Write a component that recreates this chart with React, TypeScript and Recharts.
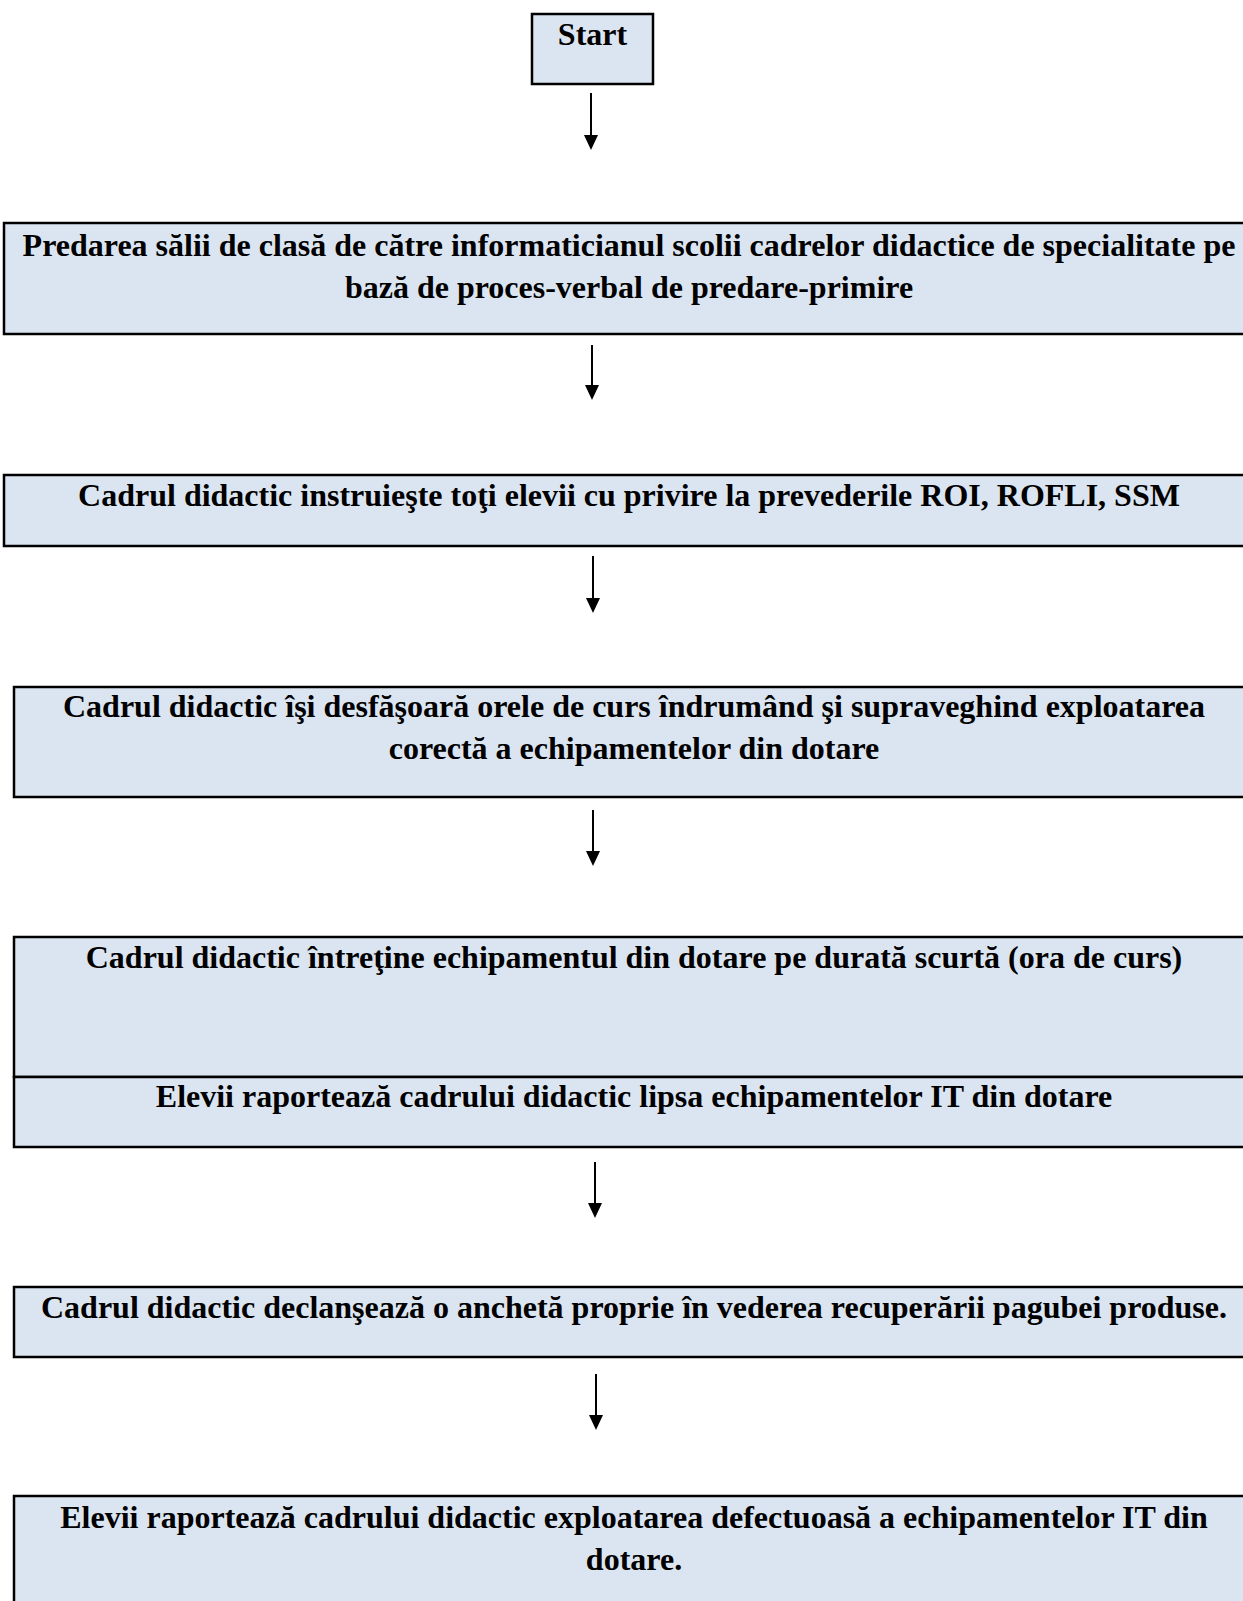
import React from "react";
import {
  ComposedChart,
  XAxis,
  YAxis,
  Scatter,
  ReferenceArea,
  ReferenceLine,
} from "recharts";

const W = 1243;
const H = 1601;

// Flowchart steps (text lines)
const startLabel = ["Start"];
const step1 = [
  "Predarea sălii de clasă de către informaticianul scolii cadrelor didactice de specialitate pe",
  "bază de proces-verbal de predare-primire",
];
const step2 = ["Cadrul didactic instruieşte toţi elevii cu privire la prevederile ROI, ROFLI, SSM"];
const step3 = [
  "Cadrul didactic îşi desfăşoară orele de curs îndrumând şi supraveghind exploatarea",
  "corectă a echipamentelor din dotare",
];
const step4a = ["Cadrul didactic întreţine echipamentul din dotare pe durată scurtă (ora de curs)"];
const step4b = ["Elevii raportează cadrului didactic lipsa echipamentelor IT din dotare"];
const step5 = ["Cadrul didactic declanşează o anchetă proprie în vederea recuperării pagubei produse."];
const step6 = [
  "Elevii raportează cadrului didactic exploatarea defectuoasă a echipamentelor IT din",
  "dotare.",
];

// Box geometry in the page's coordinate space
const boxLeft = [532, 4, 4, 14, 14, 14, 14, 14];
const boxRight = [653, 1256, 1256, 1256, 1256, 1256, 1256, 1256];
const boxTop = [14, 223, 475, 687, 937, 1077, 1287, 1496];
const boxBottom = [84, 334, 546, 797, 1077, 1147, 1357, 1625];
const boxTexts = [startLabel, step1, step2, step3, step4a, step4b, step5, step6];
const firstLineY = [34, 245, 495, 706, 957, 1096, 1307, 1517];

// Arrows
const arrowX = [591, 592, 593, 593, 595, 596];
const arrowTop = [93, 345, 556, 810, 1162, 1374];
const arrowTip = [150, 400, 613, 866, 1218, 1430];

const FILL = "#DBE5F1";
const LINE_H = 42;
const FONT = 32;

const textPoints = boxTexts.flatMap((lines, i) =>
  lines.map((t, j) => ({
    x: (boxLeft[i] + Math.min(boxRight[i], 1254)) / 2,
    y: firstLineY[i] + j * LINE_H,
    text: t,
  }))
);

const tipPoints = arrowX.map((x, i) => ({ x, y: arrowTip[i] }));

const TextShape = (props: any) => {
  const { cx, cy, payload } = props;
  return (
    <text
      x={cx}
      y={cy}
      textAnchor="middle"
      dominantBaseline="central"
      fontFamily="'Liberation Serif', 'Times New Roman', serif"
      fontWeight="bold"
      fontSize={FONT}
      fill="#000"
    >
      {payload.text}
    </text>
  );
};

const HeadShape = (props: any) => {
  const { cx, cy } = props;
  return (
    <path
      d={`M${cx - 7},${cy - 15} L${cx + 7},${cy - 15} L${cx},${cy} Z`}
      fill="#000"
    />
  );
};

export default function App() {
  return (
    <div style={{ position: "absolute", left: 0, top: 0, width: W, height: H, background: "#fff" }}>
      <ComposedChart
        width={W}
        height={H}
        margin={{ top: 0, right: 0, bottom: 0, left: 0 }}
      >
        <XAxis type="number" dataKey="x" domain={[0, W]} hide allowDataOverflow />
        <YAxis type="number" dataKey="y" domain={[0, H]} reversed hide allowDataOverflow />
        {boxTop.map((t, i) => (
          <ReferenceArea
            key={"b" + i}
            x1={boxLeft[i]}
            x2={boxRight[i]}
            y1={t}
            y2={boxBottom[i]}
            fill={FILL}
            fillOpacity={1}
            stroke="#000"
            strokeWidth={2.5}
            ifOverflow="visible"
          />
        ))}
        {arrowX.map((x, i) => (
          <ReferenceLine
            key={"a" + i}
            segment={[
              { x, y: arrowTop[i] },
              { x, y: arrowTip[i] - 12 },
            ]}
            stroke="#000"
            strokeWidth={2}
            ifOverflow="visible"
          />
        ))}
        <Scatter data={tipPoints} shape={HeadShape} isAnimationActive={false} />
        <Scatter data={textPoints} shape={TextShape} isAnimationActive={false} />
      </ComposedChart>
    </div>
  );
}
